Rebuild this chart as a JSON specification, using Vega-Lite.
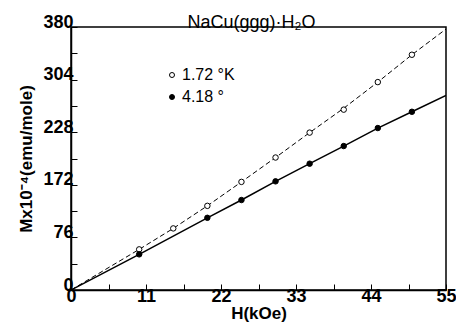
{
  "$schema": "https://vega.github.io/schema/vega-lite/v6.json",
  "width": 375,
  "height": 263,
  "autosize": {"type": "none"},
  "padding": {"left": 71, "top": 27, "right": 10, "bottom": 37},
  "background": "white",
  "title": {"text": "NaCu(ggg)·H₂O", "anchor": "middle", "font": "Liberation Sans", "fontSize": 18, "fontWeight": "normal", "color": "black", "offset": 0, "dx": -7, "dy": 19},
  "config": {
    "view": {"stroke": "black", "strokeWidth": 1.5},
    "font": "Liberation Sans",
    "axis": {"grid": false, "domainColor": "black", "domainWidth": 1.5, "tickColor": "black", "labelColor": "black", "titleColor": "black", "labelFont": "Liberation Sans", "titleFont": "Liberation Sans", "labelFontWeight": "bold", "titleFontWeight": "bold"}
  },
  "datasets": {
    "pts": [
      {"H": 10, "M": 58.7, "series": "1.72 °K"},
      {"H": 15, "M": 89, "series": "1.72 °K"},
      {"H": 20, "M": 121.6, "series": "1.72 °K"},
      {"H": 25, "M": 156.2, "series": "1.72 °K"},
      {"H": 30, "M": 191.4, "series": "1.72 °K"},
      {"H": 35, "M": 227.4, "series": "1.72 °K"},
      {"H": 40, "M": 260.6, "series": "1.72 °K"},
      {"H": 45, "M": 300.4, "series": "1.72 °K"},
      {"H": 50, "M": 339.9, "series": "1.72 °K"},
      {"H": 10, "M": 51.5, "series": "4.18 °"},
      {"H": 20, "M": 104.3, "series": "4.18 °"},
      {"H": 25, "M": 130, "series": "4.18 °"},
      {"H": 30, "M": 157, "series": "4.18 °"},
      {"H": 35, "M": 182.5, "series": "4.18 °"},
      {"H": 40, "M": 208, "series": "4.18 °"},
      {"H": 45, "M": 234, "series": "4.18 °"},
      {"H": 50, "M": 257.5, "series": "4.18 °"}
    ],
    "lines": [
      {"H": 0, "M": 0, "series": "1.72 °K"},
      {"H": 10, "M": 58.7, "series": "1.72 °K"},
      {"H": 15, "M": 89, "series": "1.72 °K"},
      {"H": 20, "M": 121.6, "series": "1.72 °K"},
      {"H": 25, "M": 156.2, "series": "1.72 °K"},
      {"H": 30, "M": 191.4, "series": "1.72 °K"},
      {"H": 35, "M": 227.4, "series": "1.72 °K"},
      {"H": 40, "M": 262.6, "series": "1.72 °K"},
      {"H": 45, "M": 300.4, "series": "1.72 °K"},
      {"H": 50, "M": 339.9, "series": "1.72 °K"},
      {"H": 55, "M": 377, "series": "1.72 °K"},
      {"H": 0, "M": 0, "series": "4.18 °"},
      {"H": 10, "M": 51.5, "series": "4.18 °"},
      {"H": 20, "M": 104.3, "series": "4.18 °"},
      {"H": 25, "M": 130, "series": "4.18 °"},
      {"H": 30, "M": 157, "series": "4.18 °"},
      {"H": 35, "M": 182.5, "series": "4.18 °"},
      {"H": 40, "M": 208, "series": "4.18 °"},
      {"H": 45, "M": 234, "series": "4.18 °"},
      {"H": 50, "M": 257.5, "series": "4.18 °"},
      {"H": 55, "M": 281, "series": "4.18 °"}
    ]
  },
  "encoding": {
    "x": {"field": "H", "type": "quantitative", "scale": {"domain": [0, 55], "nice": false},
      "axis": {"values": [0, 5.5, 11, 16.5, 22, 27.5, 33, 38.5, 44, 49.5, 55], "labelExpr": "datum.value % 11 == 0 ? datum.label : ''", "tickSize": -6, "labelPadding": 3, "labelFontSize": 18, "title": "H(kOe)", "titleFontSize": 17, "titlePadding": 0, "labelFlush": false}},
    "y": {"field": "M", "type": "quantitative", "scale": {"domain": [0, 380], "nice": false},
      "axis": {"values": [0, 38, 76, 114, 152, 190, 228, 266, 304, 342, 380], "labelExpr": "datum.value == 152 ? '172' : (datum.value % 76 == 0 ? datum.label : '')", "tickSize": -6, "labelPadding": 4, "labelBaseline": "alphabetic", "labelFontSize": 18, "title": "Mx10⁻⁴(emu/mole)", "titleFontSize": 17, "titlePadding": 7, "labelFlush": false}}
  },
  "layer": [
    {
      "data": {"name": "lines"},
      "transform": [{"filter": "datum.series == '1.72 °K'"}],
      "mark": {"type": "line", "color": "black", "strokeWidth": 1, "strokeDash": [5, 3], "clip": true}
    },
    {
      "data": {"name": "lines"},
      "transform": [{"filter": "datum.series == '4.18 °'"}],
      "mark": {"type": "line", "color": "black", "strokeWidth": 1.5, "clip": true}
    },
    {
      "data": {"name": "pts"},
      "mark": {"type": "point", "filled": true, "stroke": "black", "strokeWidth": 1, "size": 30, "shape": "circle", "opacity": 1},
      "encoding": {
        "fill": {"field": "series", "type": "nominal", "scale": {"domain": ["1.72 °K", "4.18 °"], "range": ["white", "black"]},
          "legend": {"title": null, "orient": "none", "legendX": 93, "legendY": 40, "padding": 0, "symbolType": "circle", "symbolStrokeColor": "black", "symbolStrokeWidth": 1, "symbolSize": 25, "symbolOpacity": 1, "labelFontSize": 16, "labelColor": "black", "labelFont": "Liberation Sans", "rowPadding": 6, "labelOffset": 2}}
      }
    }
  ]
}
